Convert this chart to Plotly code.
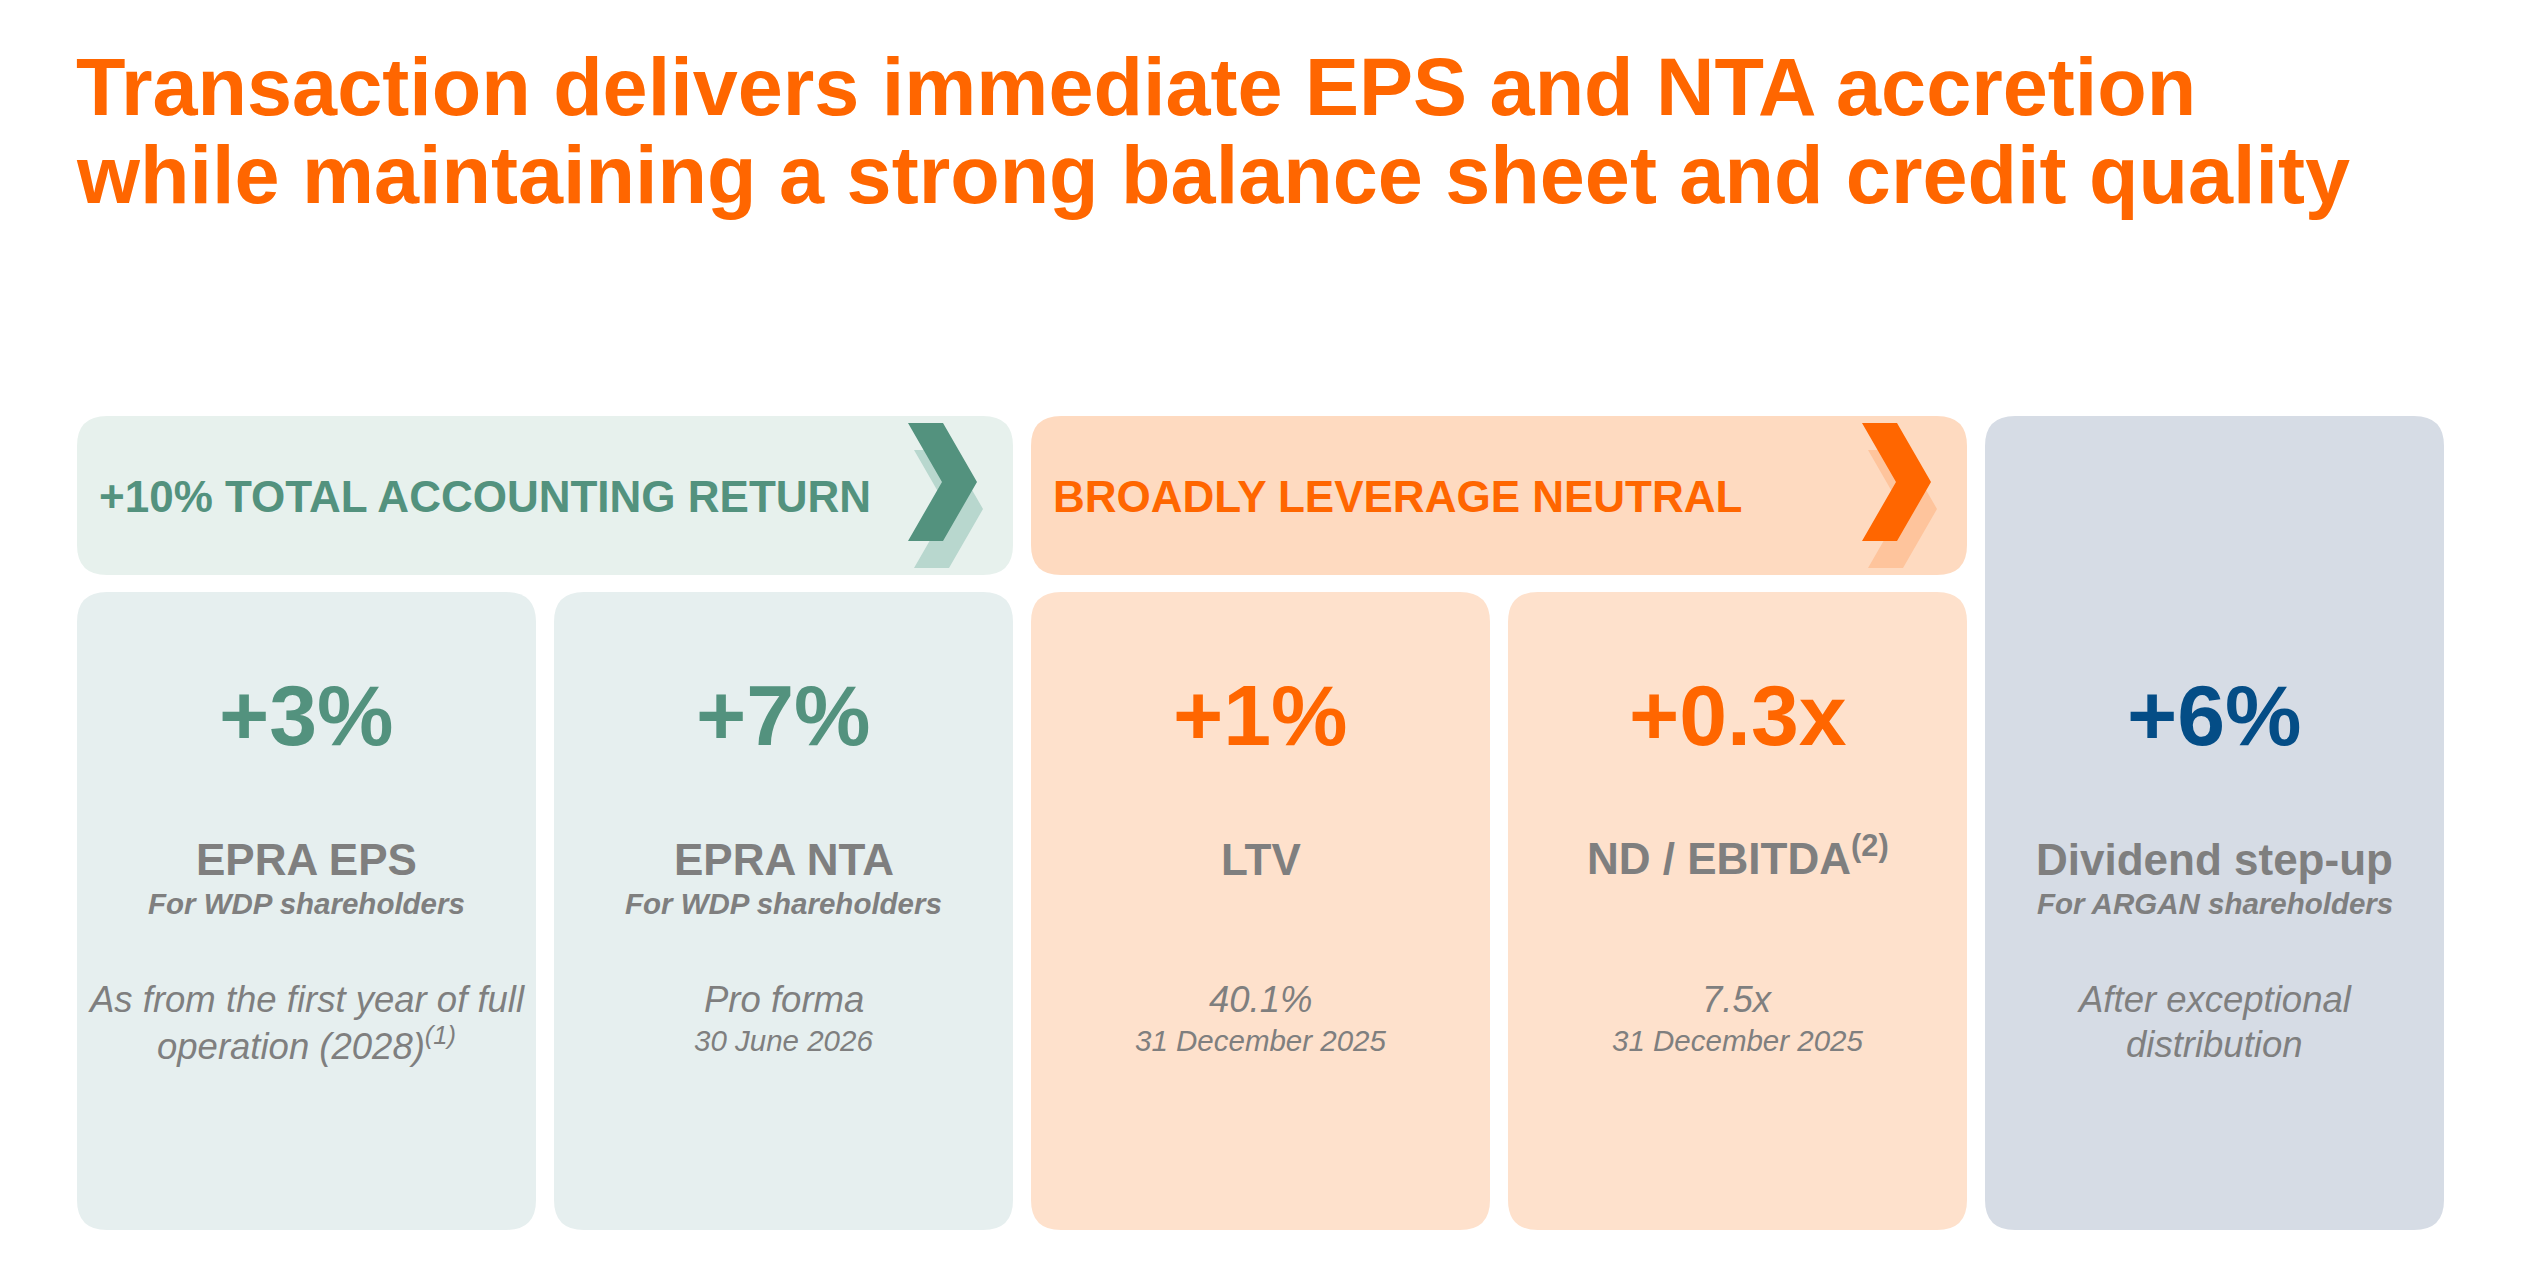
import plotly.graph_objects as go

# ---------------------------------------------------------------
# Dados do slide
# ---------------------------------------------------------------
title_lines = ["Transaction delivers immediate EPS and NTA accretion",
               "while maintaining a strong balance sheet and credit quality"]

group_titles = ["+10% TOTAL ACCOUNTING RETURN", "BROADLY LEVERAGE NEUTRAL"]

kpi_values = ["+3%", "+7%", "+1%", "+0.3x", "+6%"]
kpi_labels = ["EPRA EPS", "EPRA NTA", "LTV", "ND / EBITDA<sup>(2)</sup>", "Dividend step-up"]
kpi_subtitles = ["For WDP shareholders", "For WDP shareholders", "", "", "For ARGAN shareholders"]
kpi_notes = [["As from the first year of full", "operation (2028)<sup>(1)</sup>"],
             ["Pro forma"],
             ["40.1%"],
             ["7.5x"],
             ["After exceptional", "distribution"]]
kpi_dates = ["", "30 June 2026", "31 December 2025", "31 December 2025", ""]

# ---------------------------------------------------------------
# Estilo
# ---------------------------------------------------------------
W, H = 2524, 1288
OFF = 8   # margem do body da pagina html
FONT = "Liberation Sans, Arial, sans-serif"
ORANGE = "#FF6600"
GREEN = "#53927E"
BLUE = "#044D86"
GREY = "#7F7F7F"

value_colors = [GREEN, GREEN, ORANGE, ORANGE, BLUE]
card_fills = ["#E6EFEF", "#E6EFEF", "#FEE1CC", "#FEE1CC", "#D6DCE5"]
header_fills = ["#E7F1ED", "#FEDAC0"]
header_colors = [GREEN, ORANGE]
chevron_light = ["#B8D7CE", "#FEC49C"]

x0, col_w, gap = 77, 459, 18
head_top, head_bot = 416, 575
card_top, card_bot = 592, 1230
rad = 30


def col_left(i):
    return x0 + i * (col_w + gap)


def rounded_rect(xa, ya, xb, yb, r):
    return (f"M {xa + r},{ya} L {xb - r},{ya} Q {xb},{ya} {xb},{ya + r} "
            f"L {xb},{yb - r} Q {xb},{yb} {xb - r},{yb} L {xa + r},{yb} "
            f"Q {xa},{yb} {xa},{yb - r} L {xa},{ya + r} Q {xa},{ya} {xa + r},{ya} Z")


def chevron(tip_x, tip_y, dx=0, dy=0):
    # seta do tipo ">" grossa
    pts = [(tip_x - 69, tip_y - 59), (tip_x - 34, tip_y - 59), (tip_x, tip_y),
           (tip_x - 34, tip_y + 59), (tip_x - 69, tip_y + 59), (tip_x - 35, tip_y)]
    return "M " + " L ".join(f"{px + dx},{py + dy}" for px, py in pts) + " Z"


shapes = []
annotations = []


def add_text(x, y, text, size, color, bold=False, italic=False, xanchor="center"):
    if italic:
        text = f"<i>{text}</i>"
    if bold:
        text = f"<b>{text}</b>"
    annotations.append(dict(x=x, y=y, xref="x", yref="y", text=text, showarrow=False,
                            xanchor=xanchor, yanchor="middle",
                            font=dict(family=FONT, size=size, color=color)))


# Titulo
add_text(74, 87, title_lines[0], 81, ORANGE, bold=True, xanchor="left")
add_text(74, 175, title_lines[1], 81, ORANGE, bold=True, xanchor="left")

# Cabecalhos dos grupos (2 colunas cada)
for g in range(2):
    xa = col_left(2 * g)
    xb = col_left(2 * g + 1) + col_w
    shapes.append(dict(type="path", path=rounded_rect(xa, head_top, xb, head_bot, rad),
                       fillcolor=header_fills[g], line=dict(width=0), layer="below"))
    tip_x = xb - 36
    shapes.append(dict(type="path", path=chevron(tip_x, 482, 6, 27),
                       fillcolor=chevron_light[g], line=dict(width=0), layer="below"))
    shapes.append(dict(type="path", path=chevron(tip_x, 482),
                       fillcolor=header_colors[g], line=dict(width=0), layer="below"))
    add_text(xa + 20, 496, group_titles[g], 44, header_colors[g], bold=True, xanchor="left")

# Cartoes
for i in range(5):
    xa = col_left(i)
    xb = xa + col_w
    top = head_top if i == 4 else card_top
    shapes.append(dict(type="path", path=rounded_rect(xa, top, xb, card_bot, rad),
                       fillcolor=card_fills[i], line=dict(width=0), layer="below"))
    cx = (xa + xb) / 2
    add_text(cx, 715, kpi_values[i], 86, value_colors[i], bold=True)
    # o sobrescrito aumenta a caixa do texto, compensa um pouco
    y_lab = 859 - (4 if "<sup>" in kpi_labels[i] else 0)
    add_text(cx, y_lab, kpi_labels[i], 44, GREY, bold=True)
    if kpi_subtitles[i]:
        add_text(cx, 903, kpi_subtitles[i], 29.5, GREY, bold=True, italic=True)
    for k, line in enumerate(kpi_notes[i]):
        add_text(cx, 999 + 45 * k, line, 36.5, GREY, italic=True)
    if kpi_dates[i]:
        add_text(cx, 1040, kpi_dates[i], 29.5, GREY, italic=True)

fig = go.Figure()
fig.add_trace(go.Scatter(x=[OFF, W], y=[OFF, H], mode="markers", marker=dict(opacity=0),
                         hoverinfo="skip", showlegend=False))

fig.update_layout(
    width=W - OFF, height=H - OFF,
    margin=dict(l=0, r=0, t=0, b=0),
    paper_bgcolor="white", plot_bgcolor="white",
    xaxis=dict(range=[OFF, W], visible=False, fixedrange=True),
    yaxis=dict(range=[H, OFF], visible=False, fixedrange=True),
    shapes=shapes,
    annotations=annotations,
    showlegend=False,
)

fig.write_html("out.html")
